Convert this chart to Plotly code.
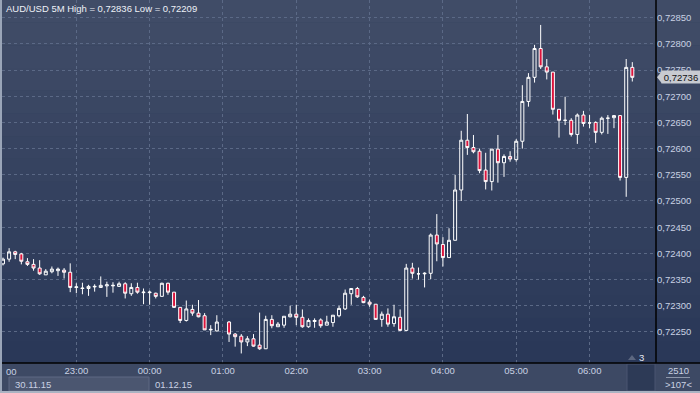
import plotly.graph_objects as go

# ---------------- data ----------------
times = ["22:00", "22:05", "22:10", "22:15", "22:20", "22:25", "22:30", "22:35", "22:40", "22:45",
         "22:50", "22:55", "23:00", "23:05", "23:10", "23:15", "23:20", "23:25", "23:30", "23:35",
         "23:40", "23:45", "23:50", "23:55", "00:00", "00:05", "00:10", "00:15", "00:20", "00:25",
         "00:30", "00:35", "00:40", "00:45", "00:50", "00:55", "01:05", "01:10", "01:15", "01:20",
         "01:25", "01:30", "01:35", "01:40", "01:45", "01:50", "01:55", "02:00", "02:05", "02:10",
         "02:15", "02:20", "02:25", "02:30", "02:35", "02:40", "02:45", "02:50", "02:55", "03:00",
         "03:05", "03:10", "03:15", "03:20", "03:25", "03:30", "03:35", "03:40", "03:45", "03:50",
         "03:55", "04:00", "04:05", "04:10", "04:15", "04:20", "04:25", "04:30", "04:35", "04:40",
         "04:45", "04:50", "04:55", "05:00", "05:05", "05:10", "05:15", "05:20", "05:25", "05:30",
         "05:35", "05:40", "05:45", "05:50", "05:55", "06:00", "06:05", "06:10", "06:15", "06:20",
         "06:25", "06:30", "06:35"]

opens = [0.72380, 0.72389, 0.72403, 0.72399, 0.72384, 0.72379, 0.72372, 0.72359, 0.72365, 0.72367,
         0.72368, 0.72364, 0.72335, 0.72334, 0.72333, 0.72336, 0.72335, 0.72338, 0.72338, 0.72337,
         0.72342, 0.72323, 0.72335, 0.72325, 0.72325, 0.72324, 0.72318, 0.72343, 0.72326, 0.72297,
         0.72272, 0.72293, 0.72286, 0.72281, 0.72254, 0.72252, 0.72269, 0.72246, 0.72242, 0.72231,
         0.72237, 0.72225, 0.72218, 0.72274, 0.72260, 0.72263, 0.72279, 0.72284, 0.72278, 0.72260,
         0.72270, 0.72273, 0.72263, 0.72268, 0.72281, 0.72294, 0.72323, 0.72333, 0.72316, 0.72307,
         0.72303, 0.72274, 0.72284, 0.72266, 0.72278, 0.72253, 0.72372, 0.72361, 0.72361, 0.72362,
         0.72435, 0.72417, 0.72392, 0.72425, 0.72521, 0.72616, 0.72602, 0.72595, 0.72559, 0.72537,
         0.72599, 0.72573, 0.72585, 0.72579, 0.72614, 0.72690, 0.72736, 0.72791, 0.72756, 0.72746,
         0.72675, 0.72654, 0.72654, 0.72627, 0.72664, 0.72649, 0.72650, 0.72631, 0.72658, 0.72659,
         0.72663, 0.72545, 0.72755]

highs = [0.72392, 0.72410, 0.72405, 0.72401, 0.72391, 0.72389, 0.72387, 0.72370, 0.72375, 0.72373,
         0.72372, 0.72381, 0.72343, 0.72344, 0.72340, 0.72341, 0.72356, 0.72346, 0.72345, 0.72346,
         0.72345, 0.72343, 0.72344, 0.72333, 0.72329, 0.72325, 0.72344, 0.72344, 0.72326, 0.72297,
         0.72310, 0.72302, 0.72311, 0.72286, 0.72263, 0.72282, 0.72271, 0.72248, 0.72246, 0.72242,
         0.72246, 0.72287, 0.72281, 0.72282, 0.72269, 0.72280, 0.72300, 0.72302, 0.72293, 0.72276,
         0.72276, 0.72276, 0.72281, 0.72282, 0.72300, 0.72331, 0.72333, 0.72336, 0.72319, 0.72312,
         0.72303, 0.72289, 0.72295, 0.72302, 0.72293, 0.72380, 0.72382, 0.72373, 0.72364, 0.72438,
         0.72475, 0.72431, 0.72448, 0.72550, 0.72634, 0.72666, 0.72626, 0.72600, 0.72592, 0.72599,
         0.72626, 0.72589, 0.72595, 0.72618, 0.72721, 0.72744, 0.72798, 0.72836, 0.72771, 0.72746,
         0.72675, 0.72699, 0.72658, 0.72667, 0.72672, 0.72664, 0.72652, 0.72661, 0.72664, 0.72664,
         0.72664, 0.72771, 0.72765]

lows = [0.72377, 0.72384, 0.72389, 0.72379, 0.72376, 0.72367, 0.72359, 0.72359, 0.72362, 0.72357,
        0.72352, 0.72326, 0.72324, 0.72322, 0.72319, 0.72327, 0.72334, 0.72317, 0.72325, 0.72336,
        0.72314, 0.72319, 0.72323, 0.72303, 0.72302, 0.72314, 0.72318, 0.72321, 0.72296, 0.72267,
        0.72270, 0.72281, 0.72278, 0.72254, 0.72244, 0.72251, 0.72231, 0.72222, 0.72209, 0.72223,
        0.72222, 0.72216, 0.72218, 0.72257, 0.72260, 0.72258, 0.72278, 0.72263, 0.72258, 0.72258,
        0.72258, 0.72258, 0.72263, 0.72260, 0.72278, 0.72292, 0.72302, 0.72315, 0.72305, 0.72298,
        0.72273, 0.72260, 0.72260, 0.72260, 0.72252, 0.72252, 0.72352, 0.72350, 0.72335, 0.72351,
        0.72385, 0.72375, 0.72392, 0.72425, 0.72500, 0.72588, 0.72591, 0.72553, 0.72522, 0.72520,
        0.72535, 0.72546, 0.72575, 0.72575, 0.72600, 0.72680, 0.72726, 0.72752, 0.72732, 0.72665,
        0.72621, 0.72645, 0.72623, 0.72609, 0.72642, 0.72639, 0.72611, 0.72627, 0.72628, 0.72639,
        0.72539, 0.72508, 0.72728]

closes = [0.72389, 0.72403, 0.72398, 0.72385, 0.72379, 0.72372, 0.72361, 0.72366, 0.72370, 0.72370,
          0.72364, 0.72335, 0.72336, 0.72333, 0.72337, 0.72337, 0.72339, 0.72340, 0.72339, 0.72342,
          0.72324, 0.72335, 0.72326, 0.72326, 0.72326, 0.72318, 0.72343, 0.72326, 0.72297, 0.72272,
          0.72294, 0.72286, 0.72279, 0.72254, 0.72255, 0.72269, 0.72246, 0.72241, 0.72231, 0.72237,
          0.72223, 0.72218, 0.72274, 0.72262, 0.72265, 0.72280, 0.72284, 0.72278, 0.72260, 0.72272,
          0.72272, 0.72262, 0.72269, 0.72282, 0.72295, 0.72324, 0.72333, 0.72317, 0.72306, 0.72303,
          0.72274, 0.72284, 0.72265, 0.72279, 0.72253, 0.72372, 0.72362, 0.72361, 0.72362, 0.72435,
          0.72418, 0.72392, 0.72425, 0.72521, 0.72616, 0.72602, 0.72594, 0.72558, 0.72537, 0.72599,
          0.72573, 0.72585, 0.72580, 0.72614, 0.72690, 0.72736, 0.72791, 0.72756, 0.72746, 0.72675,
          0.72654, 0.72654, 0.72627, 0.72664, 0.72648, 0.72649, 0.72631, 0.72658, 0.72658, 0.72663,
          0.72545, 0.72755, 0.72736]

price_ticks = [0.72250, 0.72300, 0.72350, 0.72400, 0.72450, 0.72500, 0.72550,
               0.72600, 0.72650, 0.72700, 0.72750, 0.72800, 0.72850]

title_text = "AUD/USD 5M High = 0,72836 Low = 0,72209"
last_price = 0.72736
last_label = "0,72736"
clipped_first_tick = "00"
date_labels = ["30.11.15", "01.12.15"]
shift_label = "3"
corner_top = "2510"
corner_bottom = ">107<"

# full timestamps (bars before midnight belong to 30.11.2015)
stamps = [("2015-11-30 " if int(t[:2]) >= 12 else "2015-12-01 ") + t for t in times]

# ---------------- layout geometry ----------------
W, H = 700, 393
ML, MR, MT, MB = 2, 44, 0, 30
PW, PH = W - ML - MR, H - MT - MB


def px(x):
    return (x - ML) / PW


def py(y):
    return (H - MB - y) / PH


TXT = "#c9d1e3"
GRID = "#5b6986"
FONT = "Liberation Sans"

fig = go.Figure()
fig.add_trace(go.Candlestick(
    x=stamps, open=opens, high=highs, low=lows, close=closes,
    increasing=dict(line=dict(color="#ffffff", width=1), fillcolor="rgba(0,0,0,0)"),
    decreasing=dict(line=dict(color="#ffffff", width=1), fillcolor="#dc143c"),
    whiskerwidth=0, hoverinfo="skip", showlegend=False,
))

shapes = []
# stepped vertical gradient background (plot + price panel)
top = (64, 76, 103)
bot = (42, 56, 88)
n = 16
for k in range(n):
    f = k / (n - 1)
    c = tuple(round(top[j] + (bot[j] - top[j]) * f) for j in range(3))
    y0 = (H - MB) * k / n
    y1 = (H - MB) * (k + 1) / n
    shapes.append(dict(type="rect", xref="paper", yref="paper", layer="below",
                       x0=px(0), x1=px(W), y0=py(y1), y1=py(y0),
                       fillcolor="rgb(%d,%d,%d)" % c, line=dict(width=0)))
# time-scale strip
shapes.append(dict(type="rect", xref="paper", yref="paper", layer="below",
                   x0=px(0), x1=px(W), y0=py(H), y1=py(H - MB),
                   fillcolor="#3d4964", line=dict(width=0)))
# date box
shapes.append(dict(type="rect", xref="paper", yref="paper", layer="above",
                   x0=px(9), x1=px(149), y0=py(391), y1=py(377),
                   fillcolor="#4b5670", line=dict(color="#5e6983", width=1)))
# bottom-right shift box
shapes.append(dict(type="rect", xref="paper", yref="paper", layer="above",
                   x0=px(627), x1=px(655), y0=py(391), y1=py(364),
                   fillcolor="#2d3a56", line=dict(color="#4a5570", width=1)))
# black separators
shapes.append(dict(type="line", xref="paper", yref="paper", layer="above",
                   x0=px(0), x1=px(W), y0=py(363), y1=py(363),
                   line=dict(color="#000000", width=1.5)))
shapes.append(dict(type="line", xref="paper", yref="paper", layer="above",
                   x0=px(656), x1=px(656), y0=py(0), y1=py(363),
                   line=dict(color="#000000", width=1.5)))
# window border (left and bottom)
shapes.append(dict(type="rect", xref="paper", yref="paper", layer="above",
                   x0=px(0), x1=px(2), y0=py(H), y1=py(0),
                   fillcolor="#9aa5b8", line=dict(width=0)))
shapes.append(dict(type="rect", xref="paper", yref="paper", layer="above",
                   x0=px(0), x1=px(W), y0=py(H), y1=py(391),
                   fillcolor="#aab3c2", line=dict(width=0)))
# separator line between corner numbers
shapes.append(dict(type="line", xref="paper", yref="paper", layer="above",
                   x0=px(666), x1=px(690), y0=py(377.5), y1=py(377.5),
                   line=dict(color="#8d97ab", width=1)))
# shift triangle marker
shapes.append(dict(type="path", xref="paper", yref="paper", layer="above",
                   path="M %f %f L %f %f L %f %f Z" % (px(628), py(360), px(636), py(360), px(632), py(355)),
                   fillcolor="#5c6780", line=dict(width=0)))
# price tag arrow
shapes.append(dict(type="path", xref="paper", yref="y", layer="above",
                   path="M %f %f L %f %f L %f %f Z" % (px(657), last_price, px(662), last_price + 0.00012,
                                                      px(662), last_price - 0.00012),
                   fillcolor="#c8cbd1", line=dict(width=0)))

annotations = [
    dict(text=title_text, xref="paper", yref="paper", x=px(4), y=py(8), xanchor="left", yanchor="middle",
         showarrow=False, font=dict(family=FONT, size=9.5, color="#eef1f7")),
    dict(text=clipped_first_tick, xref="paper", yref="paper", x=px(4), y=py(371.5), xanchor="left",
         yanchor="middle", showarrow=False, font=dict(family=FONT, size=9.5, color=TXT)),
    dict(text=date_labels[0], xref="paper", yref="paper", x=px(13), y=py(384), xanchor="left", yanchor="middle",
         showarrow=False, font=dict(family=FONT, size=9.5, color=TXT)),
    dict(text=date_labels[1], xref="paper", yref="paper", x=px(153), y=py(384), xanchor="left", yanchor="middle",
         showarrow=False, font=dict(family=FONT, size=9.5, color=TXT)),
    dict(text=shift_label, xref="paper", yref="paper", x=px(641), y=py(357.5), xanchor="center", yanchor="middle",
         showarrow=False, font=dict(family=FONT, size=9.5, color="#e6eaf2")),
    dict(text=corner_top, xref="paper", yref="paper", x=px(678), y=py(370.5), xanchor="center", yanchor="middle",
         showarrow=False, font=dict(family=FONT, size=9.5, color=TXT)),
    dict(text=corner_bottom, xref="paper", yref="paper", x=px(678), y=py(384.5), xanchor="center", yanchor="middle",
         showarrow=False, font=dict(family=FONT, size=9.5, color=TXT)),
    dict(text=last_label, xref="paper", yref="y", x=px(681), y=last_price, xanchor="center", yanchor="middle",
         showarrow=False, font=dict(family=FONT, size=9.5, color="#111111"),
         bgcolor="#c8cbd1", borderpad=0, width=38, height=12),
]

fig.update_layout(
    width=W, height=H,
    margin=dict(l=ML, r=MR, t=MT, b=MB, pad=0),
    paper_bgcolor="#35425e", plot_bgcolor="#35425e",
    separators=",.",
    showlegend=False,
    shapes=shapes,
    annotations=annotations,
    xaxis=dict(
        type="date",
        range=["2015-11-30 21:59:11", "2015-12-01 06:54:23"],
        tick0="2015-11-30 22:00", dtick=3600000, tickformat="%H:%M",
        showgrid=True, gridcolor=GRID, gridwidth=1, griddash="3px,3px",
        zeroline=False, showline=False, ticks="",
        tickfont=dict(family=FONT, size=9.5, color=TXT),
        rangeslider=dict(visible=False), fixedrange=True,
    ),
    yaxis=dict(
        side="right",
        range=[0.721908, 0.728836],
        tickmode="array", tickvals=price_ticks, tickformat=".5f",
        showgrid=True, gridcolor=GRID, gridwidth=1, griddash="3px,3px",
        zeroline=False, showline=False, ticks="",
        tickfont=dict(family=FONT, size=9.5, color=TXT),
        fixedrange=True,
    ),
)

fig.write_html("out.html", config={"displayModeBar": False, "staticPlot": True},
               post_script="document.body.style.margin='0';document.body.style.padding='0';"
                           "document.body.style.overflow='hidden';")
